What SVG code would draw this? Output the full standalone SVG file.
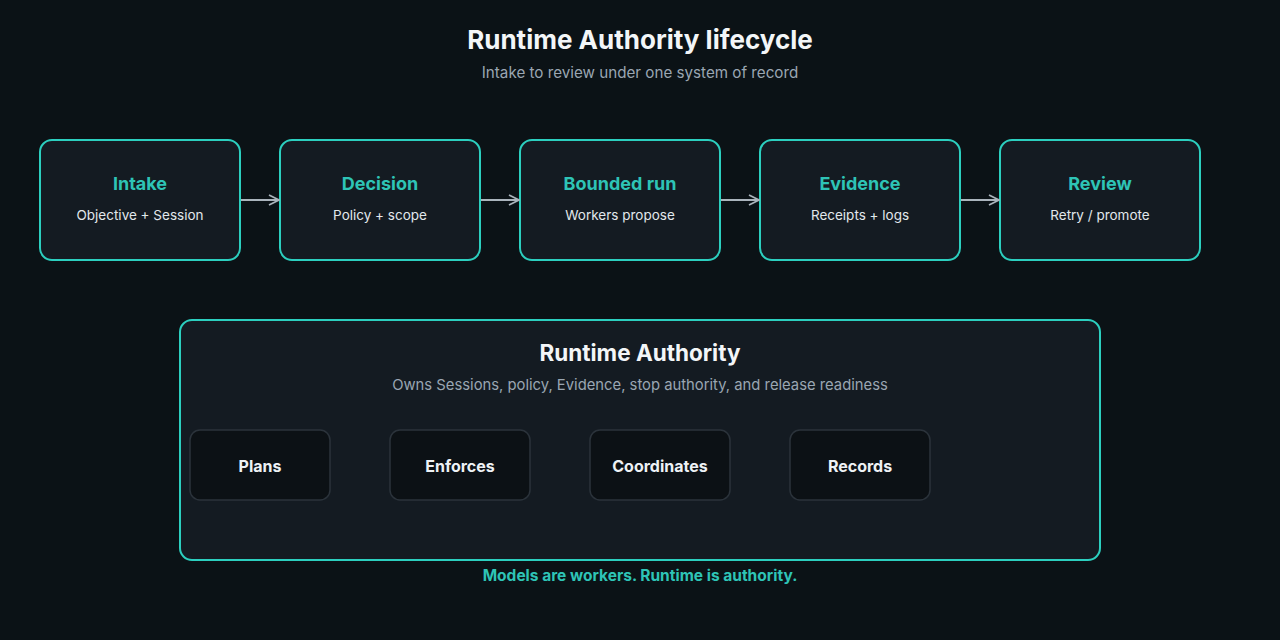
<svg xmlns="http://www.w3.org/2000/svg" width="1280" height="640" viewBox="0 0 1280 640">
<defs>
<marker id="arr" viewBox="0 0 12 12" refX="11" refY="6" markerWidth="12" markerHeight="12" markerUnits="userSpaceOnUse" orient="auto">
<path d="M1,1 L11,6 L1,11" fill="none" stroke="#aab4bc" stroke-width="1.8"/>
</marker>
<style>
text{font-family:Inter,"Liberation Sans",sans-serif;text-anchor:middle}
.stage{fill:#141b22;stroke:#2ccfbf;stroke-width:2}
.st{fill:#2ec4b6;font-size:18px;font-weight:700}
.ss{fill:#e2e8ec;font-size:13.5px}
.inner{fill:#0c1115;stroke:#2b333b;stroke-width:1.5}
.il{fill:#eef2f5;font-size:16px;font-weight:700}
.conn{stroke:#aab4bc;stroke-width:2;fill:none}
</style>
</defs>
<rect width="1280" height="640" fill="#0b1216"/>
<text x="640" y="49" fill="#f3f6f8" font-size="26" font-weight="700">Runtime Authority lifecycle</text>
<text x="640" y="78" fill="#9aa6b2" font-size="15.2">Intake to review under one system of record</text>

<g id="intake"><rect class="stage" x="40" y="140" width="200" height="120" rx="12"/><text class="st" x="140" y="190">Intake</text><text class="ss" x="140" y="220">Objective + Session</text></g>
<g id="decision"><rect class="stage" x="280" y="140" width="200" height="120" rx="12"/><text class="st" x="380" y="190">Decision</text><text class="ss" x="380" y="220">Policy + scope</text></g>
<g id="bounded-run"><rect class="stage" x="520" y="140" width="200" height="120" rx="12"/><text class="st" x="620" y="190">Bounded run</text><text class="ss" x="620" y="220">Workers propose</text></g>
<g id="evidence"><rect class="stage" x="760" y="140" width="200" height="120" rx="12"/><text class="st" x="860" y="190">Evidence</text><text class="ss" x="860" y="220">Receipts + logs</text></g>
<g id="review"><rect class="stage" x="1000" y="140" width="200" height="120" rx="12"/><text class="st" x="1100" y="190">Review</text><text class="ss" x="1100" y="220">Retry / promote</text></g>

<g id="connectors">
<line class="conn" x1="241" y1="200" x2="279" y2="200" marker-end="url(#arr)"/>
<line class="conn" x1="481" y1="200" x2="519" y2="200" marker-end="url(#arr)"/>
<line class="conn" x1="721" y1="200" x2="759" y2="200" marker-end="url(#arr)"/>
<line class="conn" x1="961" y1="200" x2="999" y2="200" marker-end="url(#arr)"/>
</g>

<g id="runtime-authority">
<rect class="stage" x="180" y="320" width="920" height="240" rx="12"/>
<text x="640" y="361" fill="#f3f6f8" font-size="22.5" font-weight="700">Runtime Authority</text>
<text x="640" y="390" fill="#9aa6b2" font-size="14.8">Owns Sessions, policy, Evidence, stop authority, and release readiness</text>
</g>
<g id="plans"><rect class="inner" x="190" y="430" width="140" height="70" rx="10"/><text class="il" x="260" y="472">Plans</text></g>
<g id="enforces"><rect class="inner" x="390" y="430" width="140" height="70" rx="10"/><text class="il" x="460" y="472">Enforces</text></g>
<g id="coordinates"><rect class="inner" x="590" y="430" width="140" height="70" rx="10"/><text class="il" x="660" y="472">Coordinates</text></g>
<g id="records"><rect class="inner" x="790" y="430" width="140" height="70" rx="10"/><text class="il" x="860" y="472">Records</text></g>

<text x="640" y="581" fill="#2ec4b6" font-size="15.5" font-weight="700">Models are workers. Runtime is authority.</text>
</svg>
